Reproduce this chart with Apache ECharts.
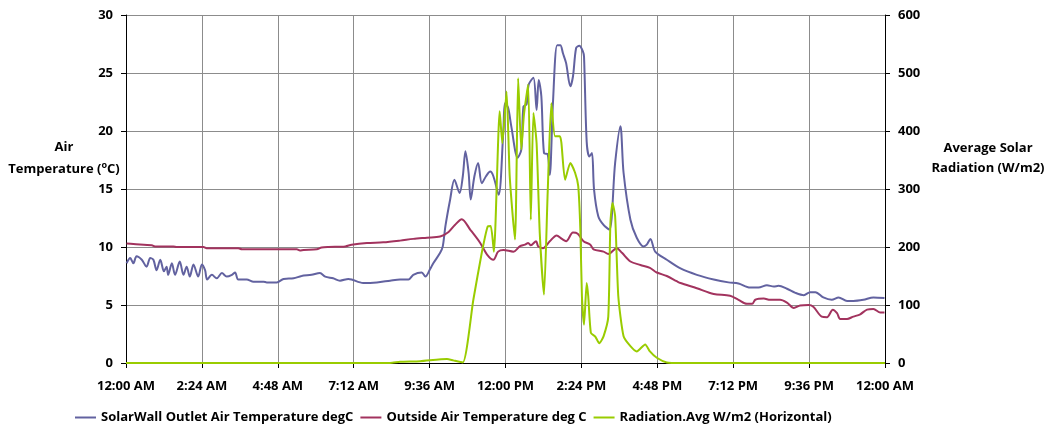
<!DOCTYPE html>
<html>
<head>
<meta charset="utf-8">
<script src="https://cdn.jsdelivr.net/npm/echarts@6/dist/echarts.min.js"></script>
<style>
html,body{margin:0;padding:0;background:#fff;}
#c{width:1051px;height:428px;}
</style>
</head>
<body>
<div id="c"></div>
<script>
// x values: minutes after midnight
var tickLabels = ['12:00 AM','2:24 AM','4:48 AM','7:12 AM','9:36 AM','12:00 PM','2:24 PM','4:48 PM','7:12 PM','9:36 PM','12:00 AM'];

var outletTime = [1,8,14,20,30,39,46,52,58,65,72,77,80,87,93,102,109,115,121,128,137,144,150,154,163,172,182,191,201,207,213,229,242,261,267,286,299,318,333,352,368,378,393,406,422,428,450,476,501,520,536,545,561,568,577,583,596,601,606,615,623,633,639,644,650,654,661,668,675,683,691,697,707,716,719,725,731,743,750,754,760,764,773,779,783,788,793,800,804,810,818,824,829,835,843,848,854,860,867,869,874,879,884,888,896,906,917,928,938,944,957,969,982,988,995,1004,1026,1052,1083,1115,1143,1162,1184,1200,1216,1229,1238,1254,1270,1286,1298,1308,1323,1339,1352,1368,1380,1399,1418,1439];
var outletTemp = [8.6,9.05,8.6,9.2,8.9,8.3,9.05,8.9,8.0,8.9,7.9,8.3,7.6,8.6,7.6,8.75,7.6,8.3,7.45,8.5,7.45,8.5,8.0,7.2,7.6,7.3,7.75,7.45,7.6,7.8,7.2,7.2,7.0,7.0,6.95,6.95,7.25,7.3,7.5,7.6,7.75,7.45,7.3,7.1,7.25,7.2,6.9,6.95,7.1,7.2,7.2,7.6,7.8,7.45,8.1,8.6,9.5,10.05,11.8,14.1,15.8,14.65,16.1,18.25,16.4,14.1,16.1,17.25,15.5,16.1,16.5,16.1,14.5,20.1,22.4,22.0,20.4,17.7,18.4,22.1,22.3,24.0,24.6,21.8,24.4,23.0,18.1,18.0,16.2,22.4,27.4,27.4,26.7,25.85,23.85,24.7,27.15,27.35,26.85,26.4,19.1,17.8,18.1,14.95,12.65,11.9,11.5,17.25,20.4,16.4,12.35,10.8,10.05,10.2,10.7,9.6,8.9,8.15,7.6,7.2,6.95,6.85,6.5,6.5,6.7,6.6,6.65,6.4,6.05,5.85,6.1,6.1,5.65,5.45,5.65,5.35,5.35,5.45,5.65,5.6];

var outsideTime = [1,14,49,55,90,96,147,153,213,220,324,330,337,362,371,384,416,428,457,488,520,545,571,596,612,624,637,653,672,685,697,706,716,735,747,757,763,768,778,782,791,804,817,827,835,848,857,868,881,887,906,915,931,941,957,976,994,1007,1026,1045,1052,1083,1115,1146,1162,1178,1188,1194,1210,1222,1241,1254,1267,1279,1295,1304,1320,1330,1341,1349,1355,1368,1380,1393,1406,1418,1431,1439];
var outsideTemp = [10.3,10.25,10.15,10.05,10.05,10.0,10.0,9.9,9.9,9.8,9.8,9.7,9.75,9.8,9.95,10.0,10.05,10.2,10.35,10.4,10.55,10.7,10.8,10.9,11.3,11.9,12.4,11.5,10.35,9.35,8.9,9.6,9.75,9.6,10.05,10.2,10.35,10.15,10.5,10.05,9.9,10.5,11.0,10.7,10.5,11.25,11.15,10.5,10.2,9.8,9.6,9.4,9.9,9.5,8.75,8.45,8.2,7.8,7.5,7.05,6.9,6.45,5.95,5.8,5.45,5.1,5.1,5.45,5.55,5.45,5.45,5.2,4.75,4.95,5.0,4.85,4.0,3.95,4.6,4.3,3.8,3.8,4.0,4.2,4.6,4.65,4.35,4.35];

var radTime = [0,501,520,558,609,621,639,659,675,686,692,698,709,714,722,728,738,744,750,755,763,768,773,779,785,793,800,807,814,823,826,833,843,852,858,862,865,869,874,877,882,890,898,906,915,919,923,928,934,944,957,969,985,994,1007,1026,1052,1440];
var radValue = [0,0,2,3,7,4.5,1,109,190,235,236,192,434,379,468,322,213,491,368,428,480,247,431,379,224,118,293,448,391,391,380,316,345,328,305,230,115,66,138,115,52,46,34,46,80,241,276,253,115,46,29,20,32,20,9,1,0,0];

function pairs(t, v){ return t.map(function(x,i){ return [x, v[i]]; }); }

var FONT = 'Open Sans';
var chart = echarts.init(document.getElementById('c'), null, {renderer:'canvas'});
chart.setOption({
  animation:false,
  backgroundColor:'#ffffff',
  textStyle:{fontFamily:FONT},
  grid:{left:126, right:166, top:15, bottom:65, containLabel:false},
  legend:{
    left:70, top:406, itemWidth:21, itemHeight:2, itemGap:7,
    icon:'rect',
    textStyle:{fontFamily:FONT, fontSize:13, fontWeight:'bold', color:'#000'},
    data:['SolarWall Outlet Air Temperature degC','Outside Air Temperature deg C','Radiation.Avg W/m2 (Horizontal)']
  },
  xAxis:{
    type:'value', min:0, max:1440, interval:144,
    axisLine:{show:true, onZero:false, lineStyle:{color:'#000', width:1}},
    axisTick:{show:true, length:5, lineStyle:{color:'#000'}},
    axisLabel:{margin:17, fontFamily:FONT, fontSize:13, fontWeight:'bold', color:'#000',
      formatter:function(v){ return tickLabels[Math.round(v/144)]; }},
    splitLine:{show:true, lineStyle:{color:'#8c8c8c', width:1}}
  },
  yAxis:[{
    type:'value', min:0, max:30, interval:5, position:'left',
    axisLine:{show:true, lineStyle:{color:'#000'}},
    axisTick:{show:true, length:5, lineStyle:{color:'#000'}},
    axisLabel:{margin:13, fontFamily:FONT, fontSize:13, fontWeight:'bold', color:'#000'},
    splitLine:{show:true, lineStyle:{color:'#8c8c8c', width:1}}
  },{
    type:'value', min:0, max:600, interval:100, position:'right',
    axisLine:{show:true, lineStyle:{color:'#000'}},
    axisTick:{show:true, length:5, lineStyle:{color:'#000'}},
    axisLabel:{margin:13, fontFamily:FONT, fontSize:13, fontWeight:'bold', color:'#000'},
    splitLine:{show:false}
  }],
  graphic:[
    {type:'text', x:64, y:147, style:{text:'Air', font:'bold 13px "Open Sans"', fill:'#000', align:'center', verticalAlign:'middle'}},
    {type:'text', x:64, y:169, style:{text:'Temperature ({s|o}C)', font:'bold 13px "Open Sans"', fill:'#000', align:'center', verticalAlign:'middle',
      rich:{s:{fontSize:9, fontWeight:'bold', fontFamily:FONT, verticalAlign:'top', padding:[0,0,8,0]}}}},
    {type:'text', x:988, y:148, style:{text:'Average Solar', font:'bold 13px "Open Sans"', fill:'#000', align:'center', verticalAlign:'middle'}},
    {type:'text', x:988, y:168, style:{text:'Radiation (W/m2)', font:'bold 13px "Open Sans"', fill:'#000', align:'center', verticalAlign:'middle'}}
  ],
  series:[{
    name:'SolarWall Outlet Air Temperature degC', type:'line', yAxisIndex:0,
    data:pairs(outletTime, outletTemp), showSymbol:false, smooth:0.3,
    lineStyle:{color:'#6262a0', width:2}, itemStyle:{color:'#6262a0'}
  },{
    name:'Outside Air Temperature deg C', type:'line', yAxisIndex:0,
    data:pairs(outsideTime, outsideTemp), showSymbol:false, smooth:0.3,
    lineStyle:{color:'#a2335e', width:2}, itemStyle:{color:'#a2335e'}
  },{
    name:'Radiation.Avg W/m2 (Horizontal)', type:'line', yAxisIndex:1,
    data:pairs(radTime, radValue), showSymbol:false, smooth:0.2,
    lineStyle:{color:'#99cc00', width:2}, itemStyle:{color:'#99cc00'}
  }]
});
</script>
</body>
</html>
